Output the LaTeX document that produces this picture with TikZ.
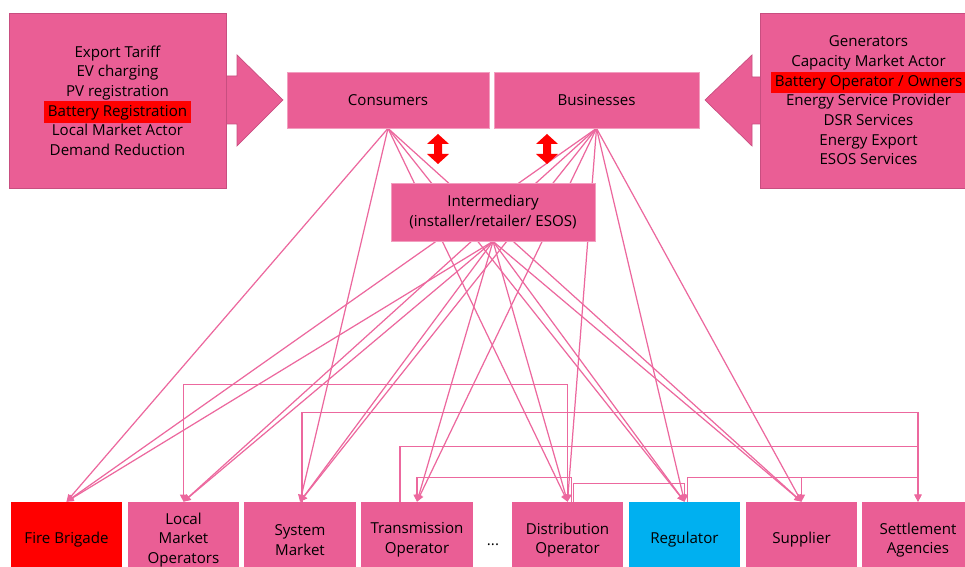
\documentclass[tikz,border=0pt]{standalone}
\usepackage{fontspec}
\setmainfont{Open Sans}
\usetikzlibrary{arrows.meta,backgrounds}
\definecolor{boxpink}{RGB}{234,94,149}
\definecolor{edgepink}{RGB}{200,78,128}
\definecolor{linepink}{RGB}{236,104,158}
\definecolor{regblue}{RGB}{0,176,240}
\newcommand{\hlred}[1]{{\fboxsep=2pt\smash{\colorbox{red}{#1}}}}
\tikzset{
  dblarrow/.pic={\fill[red] (0,-15) -- (11,-5) -- (4,-5) -- (4,5) -- (11,5) -- (0,15)
    -- (-11,5) -- (-4,5) -- (-4,-5) -- (-11,-5) -- cycle;}
}
\begin{document}
\begin{tikzpicture}[x=0.02cm,y=-0.02cm,
    font=\fontsize{8.6}{11.2}\selectfont,
    >={Triangle[length=4pt,width=4pt]},
    bigbox/.style={draw=edgepink,fill=boxpink,align=center,inner sep=0pt,
      minimum width=4.34cm,minimum height=3.5cm},
    topbox/.style={draw=white!40!boxpink,fill=boxpink,align=center,inner sep=0pt,
      minimum height=1.12cm},
    lowbox/.style={fill=boxpink,align=center,inner sep=0pt,
      minimum width=2.24cm,minimum height=1.52cm},
    blockarrow/.style={draw=edgepink,fill=boxpink},
    conn/.style={color=linepink,line width=0.7pt}]
  \useasboundingbox (0,0) rectangle (965,567);

  % block arrows into the two groups
  \filldraw[blockarrow] (215,76) -- (237,76) -- (237,55) -- (283,100) -- (237,146)
    -- (237,124) -- (215,124) -- cycle;
  \filldraw[blockarrow] (775,77) -- (752,77) -- (752,55) -- (705,100) -- (752,146)
    -- (752,124) -- (775,124) -- cycle;

  \node[bigbox] (roles) at (117.5,100.5) {Export Tariff\\EV charging\\PV registration\\
    \hlred{Battery Registration}\\Local Market Actor\\Demand Reduction};
  \node[bigbox] (services) at (868.5,100.5) {Generators\\Capacity Market Actor\\
    \hlred{Battery Operator / Owners}\\Energy Service Provider\\DSR Services\\
    Energy Export\\ESOS Services};

  \node[topbox,minimum width=4.04cm] (cons) at (388,100) {Consumers};
  \node[topbox,minimum width=4.1cm] (bus) at (596.5,100) {Businesses};
  \node[topbox,minimum width=4.08cm,minimum height=1.16cm] (inter) at (493,212)
    {Intermediary\\(installer/retailer/ ESOS)};

  \pic at (438,149) {dblarrow};
  \pic at (547,149) {dblarrow};

  % bottom row
  \node[lowbox,fill=red] (fire) at (66.5,540) {Fire Brigade};
  \node[lowbox] (lmo) at (183.5,540) {Local\\Market\\Operators};
  \node[lowbox] (sm) at (300,540) {System\\Market};
  \node[lowbox] (trans) at (417,540) {Transmission\\Operator};
  \node (dots) at (493,545) {...};
  \node[lowbox] (dop) at (567.5,540) {Distribution\\Operator};
  \node[lowbox,fill=regblue] (reg) at (684.5,540) {Regulator};
  \node[lowbox] (sup) at (801.5,540) {Supplier};
  \node[lowbox] (sa) at (918,540) {Settlement\\Agencies};

  \begin{scope}[on background layer]
  \begin{scope}[conn,->]
    \draw (cons.south) to (fire.north);
    \draw (cons.south) to (sm.north);
    \draw (cons.south) to (dop.north);
    \draw (cons.south) to (reg.north);
    \draw (cons.south) to (sup.north);
    \draw (bus.south) to (fire.north);
    \draw (bus.south) to (lmo.north);
    \draw (bus.south) to (sm.north);
    \draw (bus.south) to (trans.north);
    \draw (bus.south) to (dop.north);
    \draw (bus.south) to (reg.north);
    \draw (bus.south) to (sup.north);
    \draw (inter.south) to (fire.north);
    \draw (inter.south) to (lmo.north);
    \draw (inter.south) to (sm.north);
    \draw (inter.south) to (trans.north);
    \draw (inter.south) to (dop.north);
    \draw (inter.south) to (reg.north);
    \draw (inter.south) to (sup.north);
    % elbow links along the bottom row
    \draw[<->] (lmo.north) -- ++(0,-117) -| (dop.north);
    \draw (sm.north) ++(2,0) -- ++(0,-89) -| (sa.north);
    \draw (trans.north) ++(-17,0) -- ++(0,-55) -| (sa.north);
    \draw (dop.north) ++(4,0) -- ++(0,-24) -| (trans.north);
    \draw (dop.north) ++(6,0) -- ++(0,-18) -| (reg.north);
    \draw (reg.north) ++(3,0) -- ++(0,-24) -| (sup.north);
    \draw (sup.north) ++(0,-24) -| (sa.north);
  \end{scope}
  \end{scope}
\end{tikzpicture}
\end{document}
